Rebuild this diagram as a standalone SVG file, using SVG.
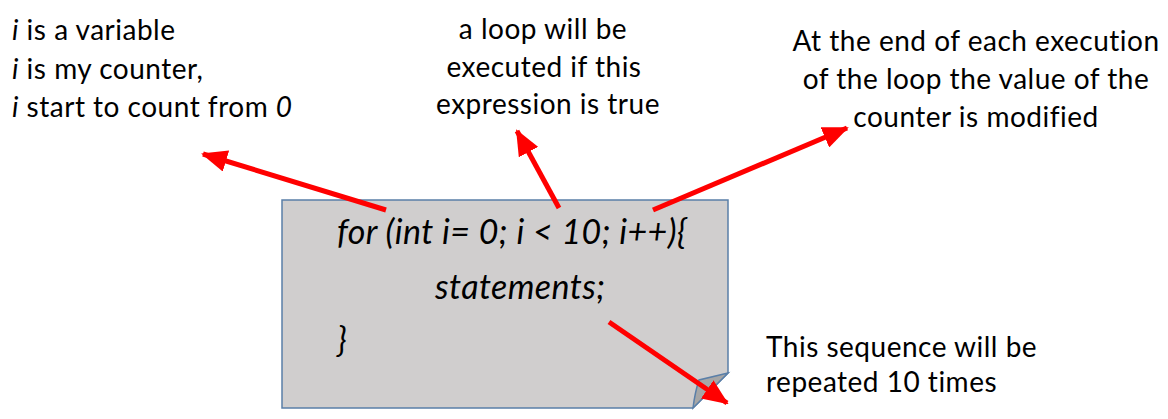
<svg xmlns="http://www.w3.org/2000/svg" width="1168" height="419" viewBox="0 0 1168 419">
<style>
.t{font-family:Lato,"Liberation Sans",sans-serif;font-size:28px;letter-spacing:0.5px;fill:#000}
.c{font-family:Lato,"Liberation Sans",sans-serif;font-size:34px;letter-spacing:0.4px;font-style:italic;fill:#000}
.i{font-style:italic}
.arr{stroke:#ff0000;stroke-width:5;fill:none;marker-end:url(#ah)}
</style>
<defs>
<marker id="ah" markerUnits="userSpaceOnUse" markerWidth="26" markerHeight="22" viewBox="0 0 26 22" refX="24" refY="11" orient="auto">
<path d="M0,0 L26,11 L0,22 Z" fill="#ff0000"/>
</marker>
</defs>
<rect width="1168" height="419" fill="#fff"/>
<g id="note">
<path d="M282,200 H728 V373 L693,408 H282 Z" fill="#d0cece" stroke="#5a7fa8" stroke-width="1.5"/>
<path d="M728,373 L699,380 Q695,392 693,408 Z" fill="#a6a6a6" stroke="#5a7fa8" stroke-width="1.5"/>
<text class="c" x="337" y="244">for (int i= 0; i &lt; 10; i++){</text>
<text class="c" x="435" y="299">statements;</text>
<text class="c" x="337" y="352">}</text>
</g>
<g id="label-variable">
<text class="t" x="12" y="40"><tspan class="i">i</tspan> is a variable</text>
<text class="t" x="12" y="79"><tspan class="i">i</tspan> is my counter,</text>
<text class="t" x="12" y="117"><tspan class="i">i</tspan> start to count from <tspan class="i">0</tspan></text>
</g>
<g id="label-condition">
<text class="t" x="543" y="39" text-anchor="middle">a loop will be</text>
<text class="t" x="544" y="77" text-anchor="middle">executed if this</text>
<text class="t" x="548" y="114" text-anchor="middle">expression is true</text>
</g>
<g id="label-increment">
<text class="t" x="976" y="51" text-anchor="middle">At the end of each execution</text>
<text class="t" x="976" y="89" text-anchor="middle">of the loop the value of the</text>
<text class="t" x="976" y="127" text-anchor="middle">counter is modified</text>
</g>
<g id="label-repeat">
<text class="t" x="766" y="357">This sequence will be</text>
<text class="t" x="766" y="392">repeated 10 times</text>
</g>
<g id="connectors">
<line class="arr" x1="386" y1="210" x2="203" y2="154"/>
<line class="arr" x1="559" y1="208" x2="517" y2="131"/>
<line class="arr" x1="653" y1="210" x2="847" y2="128"/>
<line class="arr" x1="609" y1="322" x2="727" y2="403"/>
</g>
</svg>
